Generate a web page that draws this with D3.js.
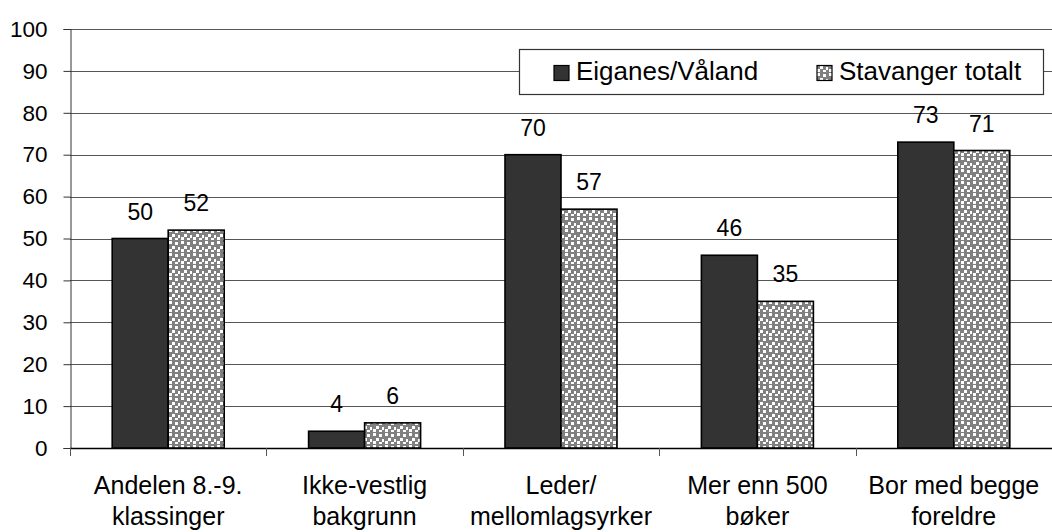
<!DOCTYPE html>
<meta charset="utf-8">
<style>
body { margin: 0; background: #fff; }
svg { display: block; font-family: "Liberation Sans", Arial, sans-serif; }
</style>
<body>
<svg id="chart" width="1052" height="532"></svg>
<script src="https://cdnjs.cloudflare.com/ajax/libs/d3/7.8.5/d3.min.js"></script>
<script>
// data
var categories = [["Andelen 8.-9.", "klassinger"], ["Ikke-vestlig", "bakgrunn"], ["Leder/", "mellomlagsyrker"], ["Mer enn 500", "bøker"], ["Bor med begge", "foreldre"]];
var seriesNames = ["Eiganes/Våland", "Stavanger totalt"];
var eiganes = [50, 4, 70, 46, 73];
var stavanger = [52, 6, 57, 35, 71];
var yTicks = [0, 10, 20, 30, 40, 50, 60, 70, 80, 90, 100];

var svg = d3.select("#chart");
var mLeft = 70, mRight = 1052, mTop = 29, mBottom = 448;

var x = d3.scaleBand().domain(d3.range(categories.length)).range([mLeft, mRight]);
var y = d3.scaleLinear().domain([0, 100]).range([mBottom, mTop]);
var barW = 56;

// pattern for the second series (gray with white squares)
var defs = svg.append("defs");
var pat = defs.append("pattern").attr("id", "dots")
    .attr("patternUnits", "userSpaceOnUse").attr("width", 12).attr("height", 12);
pat.append("rect").attr("width", 12).attr("height", 12).attr("fill", "#808080");
[[1, 1], [7, 2], [4, 6], [10, 7], [1, 9], [7, 10]].forEach(function(p) {
  pat.append("rect").attr("x", p[0]).attr("y", p[1]).attr("width", 3).attr("height", 3).attr("fill", "#fff");
});

// gridlines
svg.append("g").selectAll("line").data(yTicks).enter().append("line")
    .attr("x1", mLeft).attr("x2", mRight)
    .attr("y1", function(d) { return Math.round(y(d)) + 0.5; })
    .attr("y2", function(d) { return Math.round(y(d)) + 0.5; })
    .attr("stroke", "#555").attr("stroke-width", 1);

// y axis
var yAxis = svg.append("g").attr("transform", "translate(" + (mLeft + 0.5) + ",0)")
    .call(d3.axisLeft(y).tickValues(yTicks).tickSize(7).tickPadding(16));
yAxis.select(".domain").attr("stroke", "#333");
yAxis.selectAll(".tick line").attr("stroke", "#333");
yAxis.selectAll("text").attr("font-size", 22.5).attr("fill", "#000")
    .attr("font-family", "Liberation Sans, Arial, sans-serif");

// x axis line + ticks between categories
svg.append("line").attr("x1", mLeft).attr("x2", mRight).attr("y1", mBottom + 0.5).attr("y2", mBottom + 0.5)
    .attr("stroke", "#000").attr("stroke-width", 1.5);
svg.append("g").selectAll("line").data(d3.range(categories.length + 1)).enter().append("line")
    .attr("x1", function(i) { return Math.round(mLeft + i * x.bandwidth()) + 0.5; })
    .attr("x2", function(i) { return Math.round(mLeft + i * x.bandwidth()) + 0.5; })
    .attr("y1", mBottom).attr("y2", mBottom + 8)
    .attr("stroke", "#555");

// bars
function drawBars(vals, offset, fill) {
  svg.append("g").selectAll("rect").data(vals).enter().append("rect")
      .attr("x", function(d, i) { return x(i) + x.bandwidth() / 2 + offset; })
      .attr("y", function(d) { return y(d); })
      .attr("width", barW)
      .attr("height", function(d) { return mBottom - y(d); })
      .attr("fill", fill).attr("stroke", "#000").attr("stroke-width", 1.6);
  svg.append("g").selectAll("text").data(vals).enter().append("text")
      .attr("x", function(d, i) { return x(i) + x.bandwidth() / 2 + offset + barW / 2; })
      .attr("y", function(d) { return y(d) - 19; })
      .attr("text-anchor", "middle").attr("font-size", 23)
      .text(function(d) { return d; });
}
drawBars(eiganes, -barW, "#333");
drawBars(stavanger, 0, "url(#dots)");

// category labels
var cl = svg.append("g").selectAll("text").data(categories).enter().append("text")
    .attr("text-anchor", "middle").attr("font-size", 25);
cl.append("tspan").attr("x", function(d, i) { return x(i) + x.bandwidth() / 2; }).attr("y", 494).text(function(d) { return d[0]; });
cl.append("tspan").attr("x", function(d, i) { return x(i) + x.bandwidth() / 2; }).attr("y", 525).text(function(d) { return d[1]; });

// legend
var lg = svg.append("g");
lg.append("rect").attr("x", 519.5).attr("y", 49.5).attr("width", 524).attr("height", 45)
    .attr("fill", "#fff").attr("stroke", "#333").attr("stroke-width", 1.2);
var legX = [554, 817];
var fills = ["#333", "url(#dots)"];
seriesNames.forEach(function(n, i) {
  lg.append("rect").attr("x", legX[i]).attr("y", 65.5).attr("width", 15).attr("height", 15)
      .attr("fill", fills[i]).attr("stroke", "#000").attr("stroke-width", 1.2);
  lg.append("text").attr("x", legX[i] + 22).attr("y", 80).attr("font-size", 26).text(n);
});
</script>
</body>
